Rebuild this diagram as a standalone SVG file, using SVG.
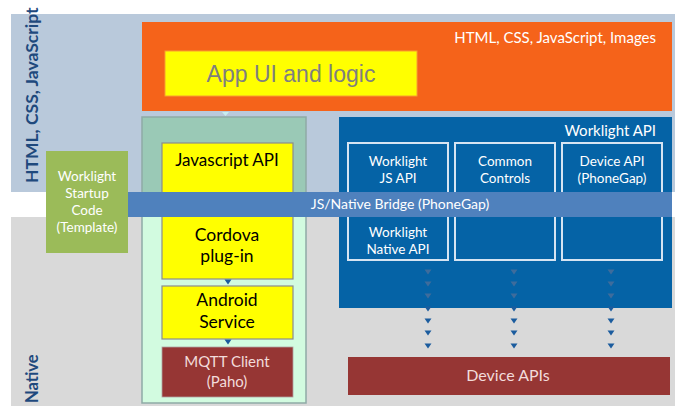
<svg xmlns="http://www.w3.org/2000/svg" width="675" height="406" viewBox="0 0 675 406">
<style>
.t{font-family:Lato,"Open Sans","Liberation Sans",sans-serif;text-anchor:middle}
.w{fill:#FFFFFF}
.pk{fill:#F2DCDB}
.k{fill:#000000}
.side{font-family:Lato,"Open Sans","Liberation Sans",sans-serif;font-weight:bold;fill:#1F497D}
.ybox{fill:#FFFF00;stroke:#8C8C8C;stroke-width:1.2}
.ibox{fill:none;stroke:#D6E4F2;stroke-width:2}
.tri{fill:#1B5C9E}
.tri2{fill:#3E6C9C}
</style>
<defs>
<path id="tr" d="M-3.5,-2.5 L3.5,-2.5 L0,2.5 Z"/>
</defs>
<rect width="675" height="406" fill="#FFFFFF"/>
<g id="bands">
<rect x="11" y="14" width="664" height="178" fill="#B9C9DB"/>
<rect x="11" y="217" width="664" height="189" fill="#D9D9D9"/>
<text class="side" font-size="17.5" transform="translate(38,183) rotate(-90)">HTML, CSS, JavaScript</text>
<text class="side" font-size="16.5" transform="translate(38,403) rotate(-90)">Native</text>
</g>
<g id="web-resources">
<rect x="142" y="22" width="530" height="89" fill="#F5631A"/>
<text class="t w" x="656" y="43" font-size="15" style="text-anchor:end">HTML, CSS, JavaScript, Images</text>
</g>
<g id="app-ui">
<rect x="165" y="51" width="252" height="45" fill="#FFFF00" stroke="#F7A030" stroke-width="1"/>
<text x="291" y="82" font-family="'Liberation Sans',Arial,sans-serif" font-size="23" fill="#7F7F7F" text-anchor="middle">App UI and logic</text>
</g>
<g id="plugin-container">
<rect x="142" y="117" width="164" height="75" fill="#9AC9B6"/>
<rect x="142" y="192" width="164" height="211" fill="#D2FBE0"/>
<rect x="142" y="117" width="164" height="286" fill="none" stroke="#8FAAA6" stroke-width="1.5"/>
</g>
<g id="worklight-api">
<rect x="339" y="117" width="333" height="191" fill="#0563A6"/>
<text class="t w" x="656" y="136" font-size="15" style="text-anchor:end">Worklight API</text>
</g>
<g id="wl-js-api">
<rect class="ibox" x="348" y="143" width="100" height="117"/>
<text class="t w" x="398" y="166" font-size="13.5">Worklight</text>
<text class="t w" x="398" y="183" font-size="13.5">JS API</text>
<text class="t w" x="398" y="237" font-size="13.5">Worklight</text>
<text class="t w" x="398" y="254" font-size="13.5">Native API</text>
</g>
<g id="common-controls">
<rect class="ibox" x="455" y="143" width="100" height="117"/>
<text class="t w" x="505" y="166" font-size="13.5">Common</text>
<text class="t w" x="505" y="183" font-size="13.5">Controls</text>
</g>
<g id="device-api">
<rect class="ibox" x="562" y="143" width="100" height="117"/>
<text class="t w" x="612" y="166" font-size="13.5">Device API</text>
<text class="t w" x="612" y="183" font-size="13.5">(PhoneGap)</text>
</g>
<g id="javascript-api">
<rect class="ybox" x="162" y="143" width="131" height="62"/>
<text class="t k" x="227" y="166" font-size="17">Javascript API</text>
</g>
<g id="cordova-plugin">
<rect class="ybox" x="162" y="205" width="131" height="74"/>
<text class="t k" x="227" y="241" font-size="17.5">Cordova</text>
<text class="t k" x="227" y="262" font-size="17.5">plug-in</text>
</g>
<g id="android-service">
<rect class="ybox" x="162" y="286" width="131" height="53"/>
<text class="t k" x="227" y="306" font-size="17.5">Android</text>
<text class="t k" x="227" y="328" font-size="17.5">Service</text>
</g>
<g id="mqtt-client">
<rect x="162" y="347" width="131" height="50" fill="#963634" stroke="#B0A0A0" stroke-width="0.8"/>
<text class="t pk" x="227" y="367" font-size="15">MQTT Client</text>
<text class="t pk" x="227" y="387" font-size="15">(Paho)</text>
</g>
<g id="startup-code">
<rect x="46" y="151" width="82" height="102" fill="#9BBB59"/>
<text class="t w" x="87" y="181" font-size="13.5">Worklight</text>
<text class="t w" x="87" y="198" font-size="13.5">Startup</text>
<text class="t w" x="87" y="215" font-size="13.5">Code</text>
<text class="t w" x="87" y="232" font-size="13.5">(Template)</text>
</g>
<g id="bridge">
<rect x="128" y="192" width="544" height="25" fill="#4F81BD"/>
<text class="t w" x="400" y="209" font-size="14">JS/Native Bridge (PhoneGap)</text>
</g>
<g id="device-apis">
<rect x="348" y="357" width="322" height="38" fill="#963634"/>
<text class="t pk" x="508" y="381" font-size="16">Device APIs</text>
</g>
<g id="connectors">
<path d="M222,112 L229,112 L225.5,116 Z" fill="#C8EEF0"/>
<use href="#tr" class="tri" x="228" y="282"/>
<use href="#tr" class="tri" x="228" y="342"/>
<g class="tri2">
<use href="#tr" x="428" y="272"/><use href="#tr" x="428" y="284"/><use href="#tr" x="428" y="296"/>
<use href="#tr" x="514" y="272"/><use href="#tr" x="514" y="284"/><use href="#tr" x="514" y="296"/>
<use href="#tr" x="611" y="272"/><use href="#tr" x="611" y="284"/><use href="#tr" x="611" y="296"/>
</g>
<g class="tri">
<use href="#tr" x="428" y="309"/><use href="#tr" x="428" y="321"/><use href="#tr" x="428" y="333"/><use href="#tr" x="428" y="346"/>
<use href="#tr" x="514" y="309"/><use href="#tr" x="514" y="321"/><use href="#tr" x="514" y="333"/><use href="#tr" x="514" y="346"/>
<use href="#tr" x="611" y="309"/><use href="#tr" x="611" y="321"/><use href="#tr" x="611" y="333"/><use href="#tr" x="611" y="346"/>
</g>
</g>
</svg>
